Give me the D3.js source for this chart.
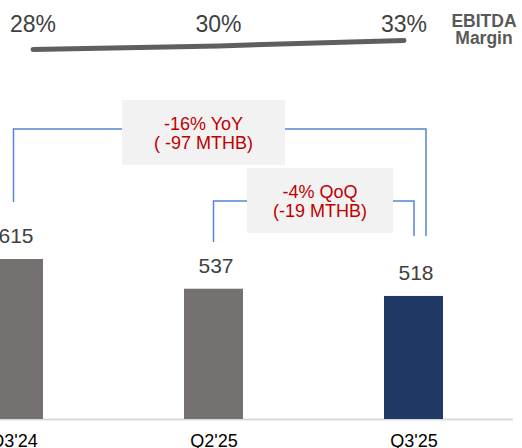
<!DOCTYPE html>
<html>
<head>
<meta charset="utf-8">
<script src="https://cdn.jsdelivr.net/npm/d3@7"></script>
<style>
  html, body { margin: 0; padding: 0; background: #fff; }
  svg { display: block; font-family: "Liberation Sans", Arial, sans-serif; }
</style>
</head>
<body>
<svg id="chart" width="522" height="448"></svg>
<script>
// ---- data ----
const categories = ["Q3'24", "Q2'25", "Q3'25"];
const ebitda = [615, 537, 518];
const barColors = ["#757171", "#757171", "#203864"];
const margins = [28, 30, 33];
const marginLabels = ["28%", "30%", "33%"];
const yoyLines = ["-16% YoY", "( -97 MTHB)"];
const qoqLines = ["-4% QoQ", "(-19 MTHB)"];
const marginTitle = ["EBITDA", "Margin"];

const svg = d3.select("#chart");

// ---- scales ----
const x = d3.scalePoint().domain(categories).range([13.5, 413.5]);
const barW = 59;
const y = d3.scaleLinear().domain([195, 615]).range([419, 259]);

const xm = d3.scalePoint().domain(categories).range([33, 404]);
const ym = d3.scaleLinear().domain([28, 33]).range([49.5, 40.5]);

// ---- margin line ----
svg.append("path")
  .datum(margins)
  .attr("d", d3.line().x((d, i) => xm(categories[i])).y(d => ym(d)))
  .attr("fill", "none")
  .attr("stroke", "#5f5f5f")
  .attr("stroke-width", 5)
  .attr("stroke-linecap", "round");

svg.selectAll(".mlabel").data(marginLabels).enter().append("text")
  .attr("x", (d, i) => xm(categories[i]))
  .attr("y", 31.5)
  .attr("text-anchor", "middle")
  .attr("font-size", 23)
  .attr("fill", "#404040")
  .text(d => d);

svg.selectAll(".mtitle").data(marginTitle).enter().append("text")
  .attr("x", 484)
  .attr("y", (d, i) => 26.5 + i * 17.5)
  .attr("text-anchor", "middle")
  .attr("font-size", 17.5)
  .attr("font-weight", "bold")
  .attr("fill", "#595959")
  .text(d => d);

// ---- axis baseline ----
svg.append("line")
  .attr("x1", 0).attr("x2", 513)
  .attr("y1", y(195) + 0.5).attr("y2", y(195) + 0.5)
  .attr("stroke", "#d9d9d9").attr("stroke-width", 2);

// ---- bars ----
svg.selectAll(".bar").data(ebitda).enter().append("rect")
  .attr("x", (d, i) => x(categories[i]) - barW / 2)
  .attr("y", d => y(d))
  .attr("width", barW)
  .attr("height", d => y(195) - y(d))
  .attr("fill", (d, i) => barColors[i]);

svg.selectAll(".vlabel").data(ebitda).enter().append("text")
  .attr("x", (d, i) => x(categories[i]) + 2.5)
  .attr("y", d => y(d) - 16)
  .attr("text-anchor", "middle")
  .attr("font-size", 21)
  .attr("fill", "#404040")
  .text(d => d);

// ---- x axis labels ----
const xAxis = d3.axisBottom(x).tickSize(0).tickPadding(0);
const gx = svg.append("g").attr("transform", "translate(0,434)").call(xAxis);
gx.select(".domain").remove();
gx.selectAll("text")
  .attr("dy", "0.71em")
  .attr("font-size", 18)
  .attr("font-family", "Liberation Sans, Arial, sans-serif")
  .attr("fill", "#000");

// ---- brackets ----
const blue = "#5585d6";
function bracket(c1, c2, off2, yTop, yL, yR) {
  const x1 = x(c1), x2 = x(c2) + off2;
  svg.append("path")
    .attr("d", `M${x1},${yL}V${yTop}H${x2}V${yR}`)
    .attr("fill", "none").attr("stroke", blue).attr("stroke-width", 1.5);
}
bracket(categories[0], categories[2], 12.5, 129, 202, 236);
bracket(categories[1], categories[2], 0.5, 201, 242, 236);

function labelBox(x0, x1, y0, y1, lines, b1) {
  svg.append("rect")
    .attr("x", x0).attr("y", y0).attr("width", x1 - x0).attr("height", y1 - y0)
    .attr("fill", "#f2f2f2");
  svg.selectAll(null).data(lines).enter().append("text")
    .attr("x", (x0 + x1) / 2)
    .attr("y", (d, i) => b1 + i * 19)
    .attr("text-anchor", "middle")
    .attr("font-size", 18)
    .attr("fill", "#c00000")
    .text(d => d);
}
labelBox(122, 285, 100, 165, yoyLines, 129.5);
labelBox(247, 393, 168, 233, qoqLines, 197.5);
</script>
</body>
</html>
